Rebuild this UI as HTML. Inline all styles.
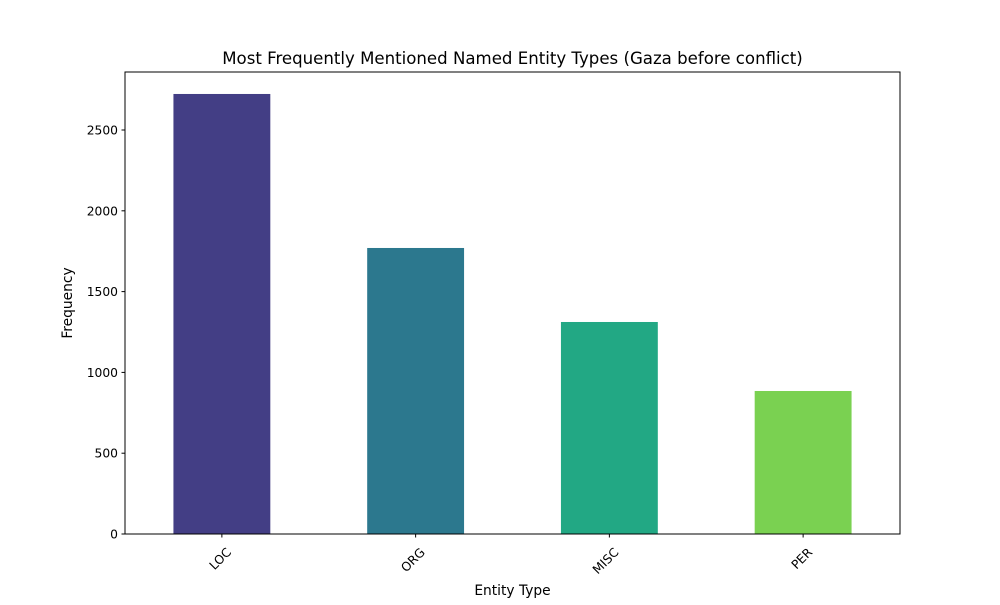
<!DOCTYPE html>
<html><head><meta charset="utf-8"><style>
body{margin:0;background:#fff;}
svg text{font-family:"DejaVu Sans","Liberation Sans",sans-serif;fill:#000;}
</style></head><body>
<svg id="chart" width="1000" height="600">
<text x="512.5" y="64" font-size="16.6" text-anchor="middle">Most Frequently Mentioned Named Entity Types (Gaza before conflict)</text>
<g id="bars"></g>
<g id="xticks"></g>
<g id="yticks"></g>
<rect x="125" y="72" width="775" height="462" fill="none" stroke="#000" stroke-width="1"/>
<text x="512.5" y="595" font-size="13.8" text-anchor="middle">Entity Type</text>
<text transform="translate(72,303) rotate(-90)" font-size="13.8" text-anchor="middle">Frequency</text>
</svg>
<script>
const categories=["LOC","ORG","MISC","PER"];
const values=[2723,1770,1312,885];
const colors=["#433e85","#2c788e","#22a884","#7ad151"];
const yTicks=[0,500,1000,1500,2000,2500];
const L=125,R=900,T=72,B=534,yMax=2859;
const NS="http://www.w3.org/2000/svg";
const y=v=>B-(v/yMax)*(B-T);
const step=(R-L)/categories.length;
const x=i=>L+step*(i+0.5);
const bw=step*0.5;
const bars=document.getElementById('bars'),xt=document.getElementById('xticks'),yt=document.getElementById('yticks');
categories.forEach((c,i)=>{
 const r=document.createElementNS(NS,'rect');
 r.setAttribute('x',x(i)-bw/2);r.setAttribute('y',y(values[i]));
 r.setAttribute('width',bw);r.setAttribute('height',B-y(values[i]));
 r.setAttribute('fill',colors[i]);
 
 
 bars.appendChild(r);
 const tk=document.createElementNS(NS,'line');
 tk.setAttribute('x1',x(i));tk.setAttribute('x2',x(i));tk.setAttribute('y1',B);tk.setAttribute('y2',B+3.5);tk.setAttribute('stroke','#000');
 
 
 xt.appendChild(tk);
 const t=document.createElementNS(NS,'text');
 t.setAttribute('transform',`translate(${x(i)+4},${B+13}) rotate(-45)`);
 t.setAttribute('text-anchor','end');t.setAttribute('font-size','12.3');t.setAttribute('dy','0.7em');
 t.textContent=c;
 
 
 xt.appendChild(t);
});
yTicks.forEach(v=>{
 const tk=document.createElementNS(NS,'line');
 tk.setAttribute('x1',L-3.5);tk.setAttribute('x2',L);tk.setAttribute('y1',y(v));tk.setAttribute('y2',y(v));tk.setAttribute('stroke','#000');
 
 
 yt.appendChild(tk);
 const t=document.createElementNS(NS,'text');
 t.setAttribute('x',L-7);t.setAttribute('y',y(v)+4.5);t.setAttribute('text-anchor','end');t.setAttribute('font-size','12.3');
 t.textContent=v;
 
 
 yt.appendChild(t);
});
</script>
</body></html>
